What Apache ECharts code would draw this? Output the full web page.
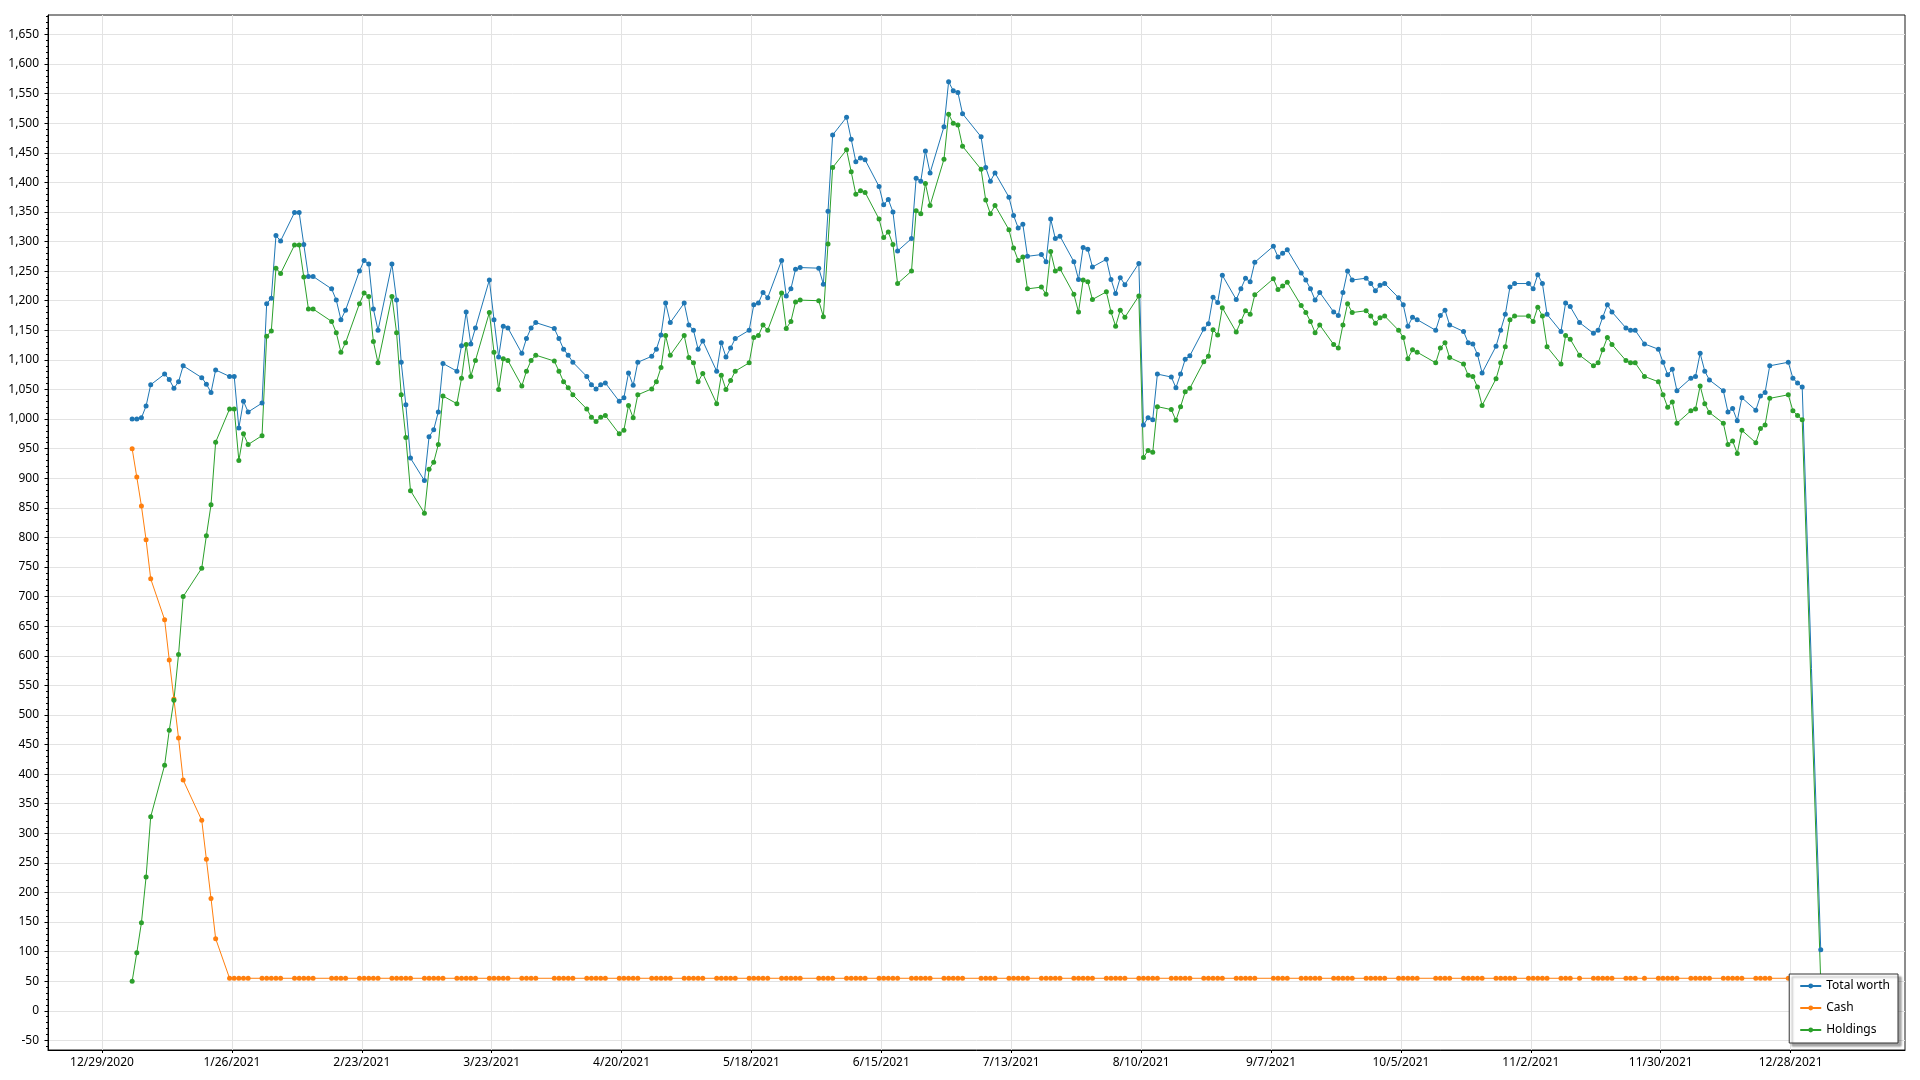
<!DOCTYPE html>
<html><head><meta charset="utf-8">
<script src="https://cdn.jsdelivr.net/npm/echarts@6/dist/echarts.min.js"></script>
<style>html,body{margin:0;padding:0;background:#fff}#c{width:1920px;height:1080px}</style>
</head><body><div id="c"></div>
<script>
const dates = [
'2021-01-04','2021-01-05','2021-01-06','2021-01-07','2021-01-08','2021-01-11','2021-01-12','2021-01-13','2021-01-14','2021-01-15','2021-01-19','2021-01-20','2021-01-21','2021-01-22','2021-01-25','2021-01-26','2021-01-27','2021-01-28','2021-01-29',
'2021-02-01','2021-02-02','2021-02-03','2021-02-04','2021-02-05','2021-02-08','2021-02-09','2021-02-10','2021-02-11','2021-02-12','2021-02-16','2021-02-17','2021-02-18','2021-02-19','2021-02-22','2021-02-23','2021-02-24','2021-02-25','2021-02-26',
'2021-03-01','2021-03-02','2021-03-03','2021-03-04','2021-03-05','2021-03-08','2021-03-09','2021-03-10','2021-03-11','2021-03-12','2021-03-15','2021-03-16','2021-03-17','2021-03-18','2021-03-19','2021-03-22','2021-03-23','2021-03-24','2021-03-25','2021-03-26','2021-03-29','2021-03-30','2021-03-31',
'2021-04-01','2021-04-05','2021-04-06','2021-04-07','2021-04-08','2021-04-09','2021-04-12','2021-04-13','2021-04-14','2021-04-15','2021-04-16','2021-04-19','2021-04-20','2021-04-21','2021-04-22','2021-04-23','2021-04-26','2021-04-27','2021-04-28','2021-04-29','2021-04-30',
'2021-05-03','2021-05-04','2021-05-05','2021-05-06','2021-05-07','2021-05-10','2021-05-11','2021-05-12','2021-05-13','2021-05-14','2021-05-17','2021-05-18','2021-05-19','2021-05-20','2021-05-21','2021-05-24','2021-05-25','2021-05-26','2021-05-27','2021-05-28',
'2021-06-01','2021-06-02','2021-06-03','2021-06-04','2021-06-07','2021-06-08','2021-06-09','2021-06-10','2021-06-11','2021-06-14','2021-06-15','2021-06-16','2021-06-17','2021-06-18','2021-06-21','2021-06-22','2021-06-23','2021-06-24','2021-06-25','2021-06-28','2021-06-29','2021-06-30',
'2021-07-01','2021-07-02','2021-07-06','2021-07-07','2021-07-08','2021-07-09','2021-07-12','2021-07-13','2021-07-14','2021-07-15','2021-07-16','2021-07-19','2021-07-20','2021-07-21','2021-07-22','2021-07-23','2021-07-26','2021-07-27','2021-07-28','2021-07-29','2021-07-30',
'2021-08-02','2021-08-03','2021-08-04','2021-08-05','2021-08-06','2021-08-09','2021-08-10','2021-08-11','2021-08-12','2021-08-13','2021-08-16','2021-08-17','2021-08-18','2021-08-19','2021-08-20','2021-08-23','2021-08-24','2021-08-25','2021-08-26','2021-08-27','2021-08-30','2021-08-31',
'2021-09-01','2021-09-02','2021-09-03','2021-09-07','2021-09-08','2021-09-09','2021-09-10','2021-09-13','2021-09-14','2021-09-15','2021-09-16','2021-09-17','2021-09-20','2021-09-21','2021-09-22','2021-09-23','2021-09-24','2021-09-27','2021-09-28','2021-09-29','2021-09-30',
'2021-10-01','2021-10-04','2021-10-05','2021-10-06','2021-10-07','2021-10-08','2021-10-12','2021-10-13','2021-10-14','2021-10-15','2021-10-18','2021-10-19','2021-10-20','2021-10-21','2021-10-22','2021-10-25','2021-10-26','2021-10-27','2021-10-28','2021-10-29',
'2021-11-01','2021-11-02','2021-11-03','2021-11-04','2021-11-05','2021-11-08','2021-11-09','2021-11-10','2021-11-12','2021-11-15','2021-11-16','2021-11-17','2021-11-18','2021-11-19','2021-11-22','2021-11-23','2021-11-24','2021-11-26','2021-11-29','2021-11-30',
'2021-12-01','2021-12-02','2021-12-03','2021-12-06','2021-12-07','2021-12-08','2021-12-09','2021-12-10','2021-12-13','2021-12-14','2021-12-15','2021-12-16','2021-12-17','2021-12-20','2021-12-21','2021-12-22','2021-12-23','2021-12-27','2021-12-28','2021-12-29','2021-12-30',
'2022-01-03'
];
const totalWorth = [
1000,1000,1002,1022,1058,1076,1067,1052,1063,1090,1070,1059,1045,1083,1072,1072,985,1030,1012,
1027,1195,1204,1310,1301,1349,1349,1295,1241,1241,1220,1201,1168,1184,1250,1268,1262,1186,1150,
1262,1201,1096,1024,934,896,970,982,1012,1094,1081,1124,1181,1127,1154,1235,1168,1105,1157,1154,1111,1136,1154,
1163,1153,1136,1118,1108,1096,1072,1058,1051,1058,1061,1030,1036,1078,1057,1096,1106,1118,1142,1196,1163,
1196,1159,1150,1118,1132,1081,1129,1105,1120,1136,1150,1193,1196,1214,1205,1268,1208,1220,1253,1256,
1255,1228,1351,1480,1510,1473,1435,1441,1438,1393,1362,1371,1350,1284,1305,1407,1402,1453,1416,1494,1570,1555,
1552,1516,1477,1425,1402,1416,1375,1344,1323,1329,1275,1278,1266,1338,1305,1309,1266,1236,1290,1287,1257,
1270,1236,1212,1239,1227,1263,990,1002,999,1076,1071,1053,1076,1101,1107,1152,1161,1206,1197,1243,1202,1220,
1238,1232,1265,1292,1274,1280,1286,1247,1235,1220,1201,1214,1181,1175,1214,1250,1235,1238,1229,1217,1226,
1229,1205,1193,1157,1172,1168,1150,1175,1184,1159,1148,1129,1127,1109,1078,1123,1150,1177,1223,1229,
1229,1220,1244,1229,1177,1148,1196,1190,1163,1145,1150,1172,1193,1181,1154,1150,1150,1127,1118,1096,
1075,1084,1048,1069,1072,1111,1081,1066,1048,1012,1018,997,1036,1015,1039,1045,1090,1096,1069,1061,1054,
103
];
const cash = [
950,902,853,796,730,661,593,527,461,390,322,256,190,122,55,55,55,55,55,
55,55,55,55,55,55,55,55,55,55,55,55,55,55,55,55,55,55,55,
55,55,55,55,55,55,55,55,55,55,55,55,55,55,55,55,55,55,55,55,55,55,55,
55,55,55,55,55,55,55,55,55,55,55,55,55,55,55,55,55,55,55,55,55,
55,55,55,55,55,55,55,55,55,55,55,55,55,55,55,55,55,55,55,55,
55,55,55,55,55,55,55,55,55,55,55,55,55,55,55,55,55,55,55,55,55,55,
55,55,55,55,55,55,55,55,55,55,55,55,55,55,55,55,55,55,55,55,55,
55,55,55,55,55,55,55,55,55,55,55,55,55,55,55,55,55,55,55,55,55,55,
55,55,55,55,55,55,55,55,55,55,55,55,55,55,55,55,55,55,55,55,55,
55,55,55,55,55,55,55,55,55,55,55,55,55,55,55,55,55,55,55,55,
55,55,55,55,55,55,55,55,55,55,55,55,55,55,55,55,55,55,55,55,
55,55,55,55,55,55,55,55,55,55,55,55,55,55,55,55,55,55,55,55,55,
55
];
const holdings = [
50,98,149,226,328,415,474,525,602,700,748,803,855,961,1017,1017,930,975,957,
972,1140,1149,1255,1246,1294,1294,1240,1186,1186,1165,1146,1113,1129,1195,1213,1207,1131,1095,
1207,1146,1041,969,879,841,915,927,957,1039,1026,1069,1126,1072,1099,1180,1113,1050,1102,1099,1056,1081,1099,
1108,1098,1081,1063,1053,1041,1017,1003,996,1003,1006,975,981,1023,1002,1041,1051,1063,1087,1141,1108,
1141,1104,1095,1063,1077,1026,1074,1050,1065,1081,1095,1138,1141,1159,1150,1213,1153,1165,1198,1201,
1200,1173,1296,1425,1455,1418,1380,1386,1383,1338,1307,1316,1295,1229,1250,1352,1347,1398,1361,1439,1515,1500,
1497,1461,1422,1370,1347,1361,1320,1289,1268,1274,1220,1223,1211,1283,1250,1254,1211,1181,1235,1232,1202,
1215,1181,1157,1184,1172,1208,935,947,944,1021,1016,998,1021,1046,1052,1097,1106,1151,1142,1188,1147,1165,
1183,1177,1210,1237,1219,1225,1231,1192,1180,1165,1146,1159,1126,1120,1159,1195,1180,1183,1174,1162,1171,
1174,1150,1138,1102,1117,1113,1095,1120,1129,1104,1093,1074,1072,1054,1023,1068,1095,1122,1168,1174,
1174,1165,1189,1174,1122,1093,1141,1135,1108,1090,1095,1117,1138,1126,1099,1095,1095,1072,1063,1041,
1020,1029,993,1014,1017,1056,1026,1011,993,957,963,942,981,960,984,990,1035,1041,1014,1006,999,
48
];
const xTickLabels = ['12/29/2020','1/26/2021','2/23/2021','3/23/2021','4/20/2021','5/18/2021','6/15/2021','7/13/2021','8/10/2021','9/7/2021','10/5/2021','11/2/2021','11/30/2021','12/28/2021'];
const yTickValues = [-50,0,50,100,150,200,250,300,350,400,450,500,550,600,650,700,750,800,850,900,950,1000,1050,1100,1150,1200,1250,1300,1350,1400,1450,1500,1550,1600,1650];
const seriesNames = ['Total worth','Cash','Holdings'];
const seriesColors = ['#1f77b4','#ff7f0e','#2ca02c'];

const DAY = 86400000;
const Y_MIN = -66.2, Y_MAX = 1682.8;
const parseMDY = s => { const p = s.split('/').map(Number); return Date.UTC(p[2], p[0]-1, p[1]); };
const xTicks = xTickLabels.map(parseMDY);
const t0 = xTicks[0];
const toX = s => Date.parse(s + 'T12:00:00Z');
const mk = arr => dates.map((d, i) => [toX(d), arr[i]]);
const fmtDate = v => { const dt = new Date(Math.round(v / DAY) * DAY); return (dt.getUTCMonth()+1) + '/' + dt.getUTCDate() + '/' + dt.getUTCFullYear(); };
const FONT = '"Noto Sans", "Liberation Sans", sans-serif';
// minor tick positions (every 10 units between major ticks)
const yMinor = [];
for (let v = -60; v <= 1680; v += 10) { if (v % 50 !== 0) yMinor.push(v); }

const chart = echarts.init(document.getElementById('c'), null, {renderer: 'canvas'});
const values = [totalWorth, cash, holdings];
chart.setOption({
  animation: false,
  backgroundColor: '#ffffff',
  grid: {left: 48, right: 15, top: 15, bottom: 30, show: true, borderColor: '#1a1a1a', borderWidth: 1, backgroundColor: 'transparent'},
  xAxis: {
    type: 'value',
    min: t0 - 11.64 * DAY,
    max: t0 + 388.66 * DAY,
    axisLine: {show: true, onZero: false, lineStyle: {color: '#000', width: 1}},
    axisTick: {show: true, customValues: xTicks, length: 3, lineStyle: {color: '#000'}},
    axisLabel: {customValues: xTicks, formatter: fmtDate, color: '#000', fontSize: 12, margin: 7, fontFamily: FONT},
    splitLine: {show: true, lineStyle: {color: '#e3e3e3', width: 1}}
  },
  yAxis: [{
    type: 'value',
    min: Y_MIN,
    max: Y_MAX,
    axisLine: {show: true, onZero: false, lineStyle: {color: '#000', width: 1}},
    axisTick: {show: true, customValues: yTickValues, length: 3.5, lineStyle: {color: '#000'}},
    axisLabel: {customValues: yTickValues, formatter: v => Number(v).toLocaleString('en-US'), color: '#000', fontSize: 12, margin: 9, fontFamily: FONT},
    splitLine: {show: true, lineStyle: {color: '#e3e3e3', width: 1}}
  }, {
    type: 'value',
    position: 'left',
    offset: 0,
    min: Y_MIN,
    max: Y_MAX,
    axisLine: {show: false, onZero: false},
    axisTick: {show: true, customValues: yMinor, length: 2, lineStyle: {color: '#000'}},
    axisLabel: {show: false},
    splitLine: {show: false}
  }],
  legend: {
    data: seriesNames,
    orient: 'vertical',
    right: 22,
    bottom: 37,
    itemWidth: 21,
    itemHeight: 6,
    itemGap: 10,
    padding: [6, 8, 7, 10],
    backgroundColor: '#ffffff',
    borderColor: '#333',
    borderWidth: 1,
    borderRadius: 0,
    shadowColor: 'rgba(0,0,0,0.35)',
    shadowBlur: 2,
    shadowOffsetX: 3,
    shadowOffsetY: 3,
    textStyle: {color: '#000', fontSize: 12, fontFamily: FONT}
  },
  series: seriesNames.map((n, i) => ({
    name: n,
    type: 'line',
    data: mk(values[i]),
    yAxisIndex: 0,
    symbol: 'circle',
    symbolSize: 5,
    showAllSymbol: true,
    color: seriesColors[i],
    lineStyle: {width: 1, color: seriesColors[i]},
    itemStyle: {color: seriesColors[i]},
    emphasis: {disabled: true}
  }))
});
</script></body></html>
